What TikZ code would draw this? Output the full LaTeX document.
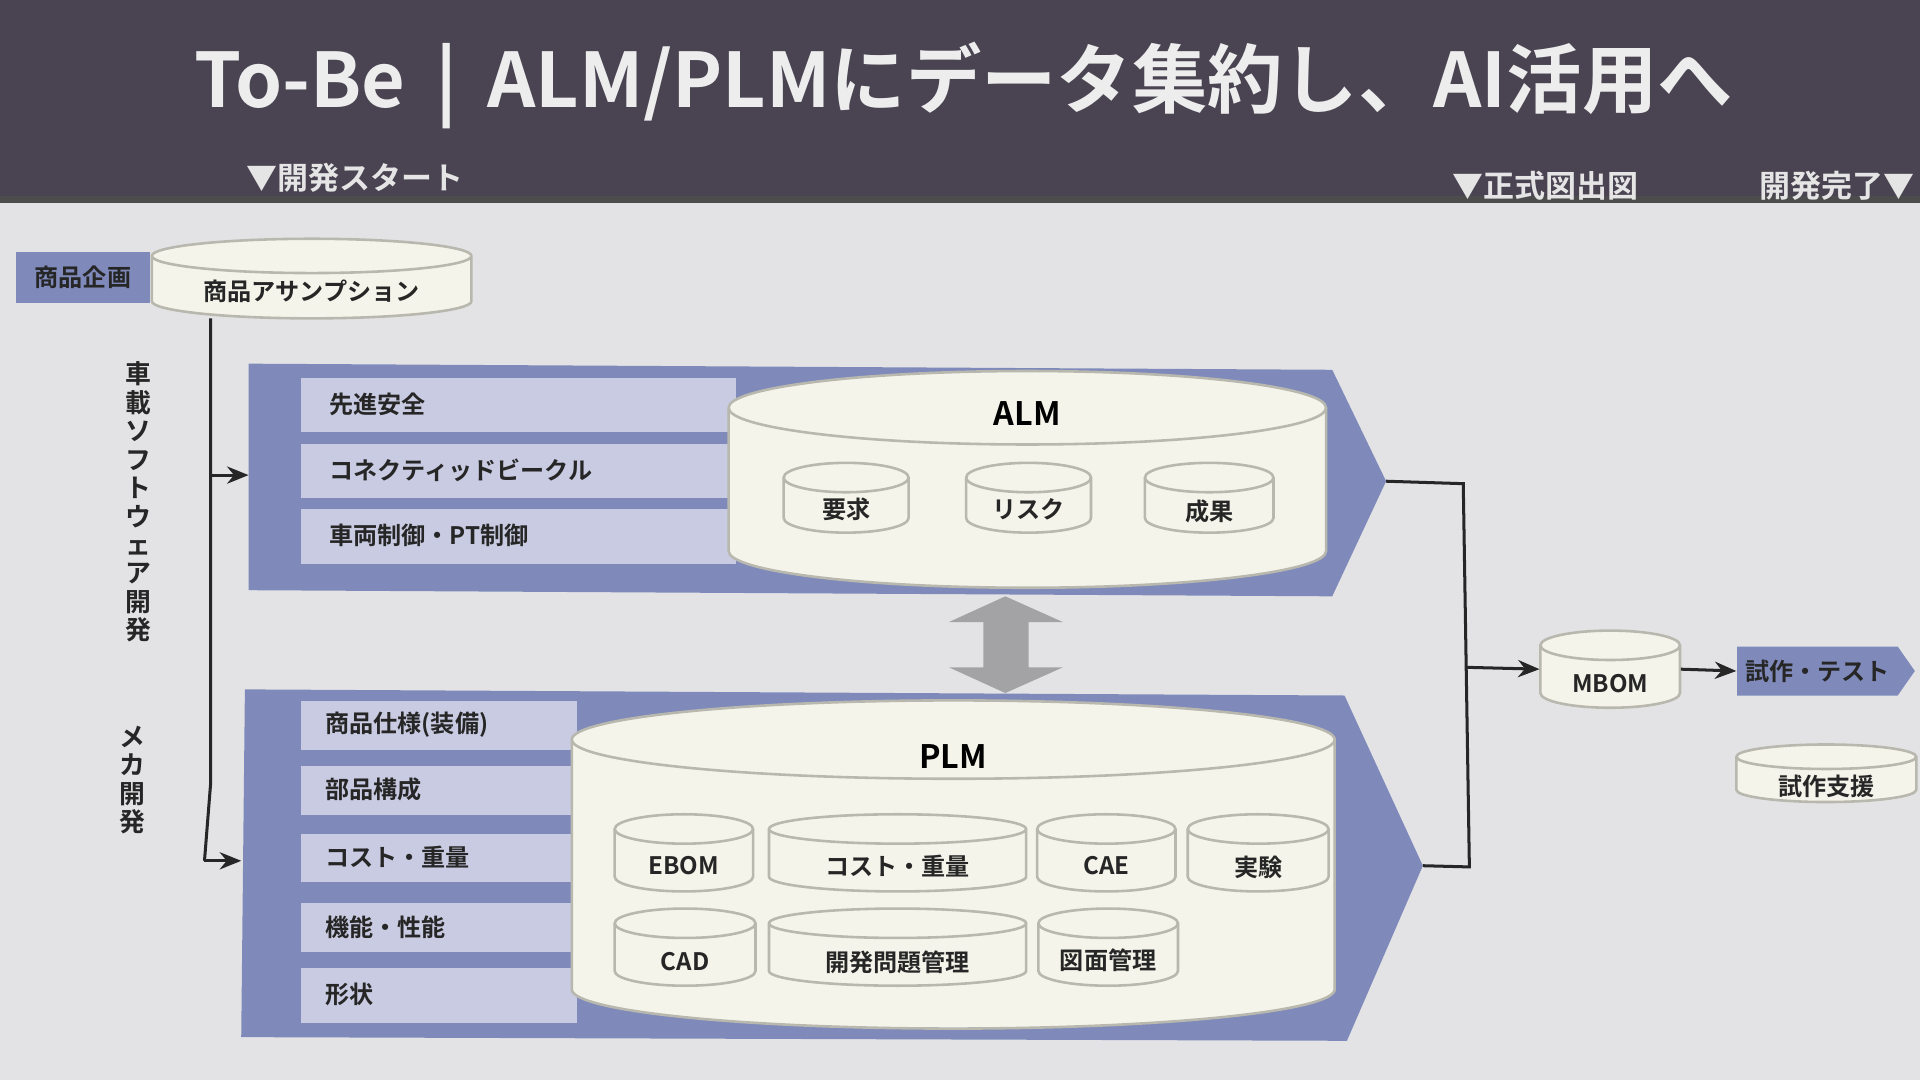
\documentclass[tikz,border=0pt]{standalone}
\usepackage{fontspec}
\setmainfont{Noto Sans CJK JP}[BoldFont={* Bold}]
\usetikzlibrary{fit,arrows.meta,shapes.symbols}
\definecolor{barc}{HTML}{4A4352}
\definecolor{bgc}{HTML}{E3E3E6}
\definecolor{bandc}{HTML}{7F8ABA}
\definecolor{rowc}{HTML}{C8CBE1}
\definecolor{cylc}{HTML}{F4F4EA}
\definecolor{cyle}{HTML}{B8B8AE}
\definecolor{darrc}{HTML}{A3A3A6}
\tikzset{
 cylst/.style={fill=cylc,draw=cyle,line width=0.6pt},
 rowst/.style={fill=rowc,draw=none,inner sep=0,anchor=north west,text depth=0pt},
 lab/.style={font=\bfseries\fontsize{5.6}{6}\selectfont,text=black!85},
 rlab/.style={lab,anchor=west,inner sep=0},
 conn/.style={line width=0.7pt,draw=black!85},
 arr/.style={conn,-{Stealth[length=5pt,width=4pt]}},
}
\newcommand\cyl[9]{%
 \pgfmathsetmacro\rx{(#4-#2)/2}%
 \filldraw[cylst] (#2,#3+#6) -- (#2,#5-#6) arc[start angle=180,end angle=0,x radius=\rx,y radius=#6] -- (#4,#3+#6) arc[start angle=0,end angle=-180,x radius=\rx,y radius=#6] -- cycle;
 \draw[draw=cyle,line width=0.6pt] (#2,#3+#6) arc[start angle=180,end angle=0,x radius=\rx,y radius=#6];
 \coordinate (#1-nw) at (#2,#3); \coordinate (#1-se) at (#4,#5);
 \node[fit=(#1-nw)(#1-se),inner sep=0] (#1) {};
 \node[#9] (#1-t) at ({(#2+#4)/2},#7) {#8};
}
\begin{document}
\begin{tikzpicture}[x=0.01cm,y=-0.01cm]
\fill[bgc] (0,0) rectangle (1568,882);
\useasboundingbox (0,0) rectangle (1568,882);
\fill[barc] (0,0) rectangle (1568,165);
\fill[black!70] (0,160) rectangle (1568,166);
\node[text=white!93!black,font=\bfseries\fontsize{17.5}{19}\selectfont] (title) at (787,70) {To-Be \,|\, ALM/PLMにデータ集約し、AI活用へ};
\node[text=white!90!black,font=\bfseries\fontsize{7.2}{8}\selectfont] (m1) at (290,145) {▼開発スタート};
\node[text=white!90!black,font=\bfseries\fontsize{7.2}{8}\selectfont] (m2) at (1262,152) {▼正式図出図};
\node[text=white!90!black,font=\bfseries\fontsize{7.2}{8}\selectfont] (m3) at (1500,152) {開発完了▼};
% product planning
\node[fill=bandc,inner sep=0,lab,anchor=north west,minimum width=1.1cm,minimum height=0.42cm] (kikaku) at (12,205) {商品企画};
\cyl{assump}{124}{195}{385}{260}{14}{238}{商品アサンプション}{lab}
% vertical labels
\node[lab,align=center,font=\bfseries\fontsize{6}{6.6}\selectfont] (soft) at (113,410) {車\\載\\ソ\\フ\\ト\\ウ\\ェ\\ア\\開\\発};
\node[lab,align=center,font=\bfseries\fontsize{6}{6.6}\selectfont] (meka) at (108,637) {メ\\カ\\開\\発};
% ALM band
\fill[bandc] (203,297) -- (1088,302) -- (1132,393) coordinate (almtip) -- (1088,487) -- (203,482) -- cycle;
\coordinate (almin) at (203,388);
\node[rowst,minimum width=3.55cm,minimum height=0.44cm] (r1) at (245,308) {};
\node[rlab] at (268,330) {先進安全};
\node[rowst,minimum width=3.55cm,minimum height=0.44cm] (r2) at (245,362) {};
\node[rlab] at (268,384) {コネクティッドビークル};
\node[rowst,minimum width=3.55cm,minimum height=0.45cm] (r3) at (245,415) {};
\node[rlab] at (268,437) {車両制御・PT制御};
\cyl{alm}{595}{303}{1083}{480}{30}{338}{ALM}{font=\bfseries\fontsize{7.5}{8}\selectfont}
\cyl{yokyu}{640}{378}{742}{435}{12}{416}{要求}{lab}
\cyl{risk}{789}{378}{891}{435}{12}{416}{リスク}{lab}
\cyl{seika}{935}{378}{1040}{435}{12}{418}{成果}{lab}
% double arrow
\fill[darrc] (821,487) -- (868,508) -- (840,508) -- (840,545) -- (868,545) -- (821,566) -- (775,545) -- (803,545) -- (803,508) -- (775,508) -- cycle;
% PLM band
\fill[bandc] (200,563) -- (1098,568) -- (1162,707) coordinate (plmtip) -- (1100,850) -- (197,847) -- cycle;
\coordinate (plmin) at (197,703);
\foreach \y/\h/\t in {572/40/商品仕様(装備),625/40/部品構成,680/40/コスト・重量,737/40/機能・性能,790/45/形状}{
 \node[rowst,minimum width=2.25cm,minimum height=\h*0.01cm] at (245,\y) {};
 \node[rlab] at (265,\y+\h/2) {\t};
}
\cyl{plm}{467}{572}{1090}{840}{32}{618}{PLM}{font=\bfseries\fontsize{7.5}{8}\selectfont}
\cyl{ebom}{502}{665}{615}{728}{12}{707}{EBOM}{lab}
\cyl{cost}{628}{665}{838}{728}{12}{707}{コスト・重量}{lab}
\cyl{cae}{847}{665}{960}{728}{12}{707}{CAE}{lab}
\cyl{jikken}{970}{665}{1085}{728}{12}{708}{実験}{lab}
\cyl{cad}{502}{742}{617}{805}{12}{785}{CAD}{lab}
\cyl{mondai}{628}{742}{838}{805}{12}{786}{開発問題管理}{lab}
\cyl{zumen}{848}{742}{962}{805}{12}{784}{図面管理}{lab}
% right side
\cyl{mbom}{1258}{515}{1372}{578}{12}{558}{MBOM}{lab}
\node[signal,signal to=east,signal pointer angle=110,fill=bandc,lab,inner sep=0,minimum width=1.45cm,minimum height=0.4cm,anchor=west] (test) at (1418,548) {試作・テスト};
\cyl{shien}{1418}{608}{1565}{655}{10}{642}{試作支援}{lab}
% connectors
\coordinate (vtop) at (172,260);
\draw[conn] (vtop) -- (172,640) -- (167,703) coordinate (vbot);
\draw[arr] (172,388) -- (almin);
\draw[arr] (vbot) -- (plmin);
\draw[conn] (almtip) -- (1195,395) -- (1200,708) -- (plmtip);
\draw[arr] (1198,545) -- (mbom.west);
\draw[arr] (mbom.east) -- (test.west);
\end{tikzpicture}
\end{document}
